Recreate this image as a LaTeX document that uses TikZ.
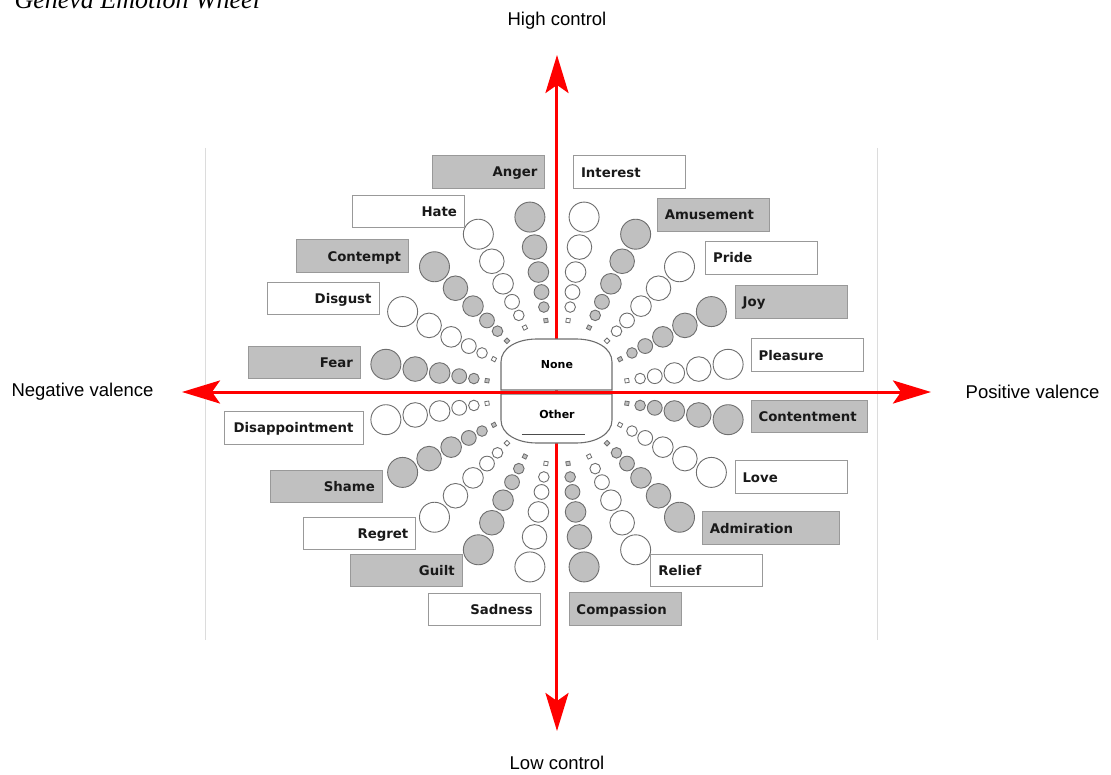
\documentclass[tikz,border=0pt]{standalone}
\usepackage{fontspec}
\setmainfont{Liberation Serif}
\setsansfont{Liberation Sans}
\newfontfamily\boxfont{DejaVu Sans}
\usetikzlibrary{arrows.meta}
\definecolor{wheelgray}{HTML}{C0C0C0}
\definecolor{rimgray}{HTML}{6E6E6E}
\definecolor{boxline}{HTML}{999999}
\definecolor{paleline}{HTML}{DCDCDC}
\tikzset{
  axis/.style={red, line width=3pt, -{Stealth[length=38pt,width=23pt,inset=8pt]}},
  axislabel/.style={font=\sffamily\fontsize{18.5}{20}\selectfont},
  emobox/.style={draw=boxline, line width=0.9pt, minimum height=32.6pt, inner xsep=7.5pt,
    inner ysep=0pt, text width=97pt, text height=10pt, text depth=0pt,
    text=black!90, font=\boxfont\bfseries\fontsize{13.3}{15}\selectfont},
  leftbox/.style={emobox, align=right},
  rightbox/.style={emobox, align=left},
  greyfill/.style={fill=wheelgray},
  whitefill/.style={fill=white},
  bubble/.style={draw=rimgray, line width=0.9pt},
  centerpart/.style={draw=rimgray, line width=1.1pt, fill=white},
  centerlabel/.style={font=\boxfont\bfseries\fontsize{11}{13}\selectfont}
}
\begin{document}
\begin{tikzpicture}[x=1pt,y=1pt]
\useasboundingbox (-557,-382) rectangle (554,392);
\clip (-557,-382) rectangle (554,392);
\node[anchor=base west, font=\itshape\fontsize{26}{28}\selectfont] (title) at (-546,383) {Geneva Emotion Wheel};
% edges of the wheel picture
\draw[paleline] (-352,244) -- (-352,-248);
\draw[paleline] (320,244) -- (320,-248);
\coordinate (O) at (0,0);
\coordinate (chigh) at (0,337);
\coordinate (clow) at (0,-339);
\coordinate (vneg) at (-375,0);
\coordinate (vpos) at (374,0);
\draw[axis] (O) -- (chigh);
\draw[axis] (O) -- (clow);
% the twenty spokes
\foreach \s/\f in {9/white,27/wheelgray} {
  \foreach \k in {0,...,9} {
    \pgfmathsetmacro{\a}{\s+36*\k}
    \foreach \d/\r in {175/15,145/12.3,120/10.3,100/7.4,85/5.3}
      \draw[bubble, fill=\f] ({0.99*\d*cos(\a)},{1.012*\d*sin(\a)}) circle (\r);
    \draw[bubble, line width=0.8pt, fill=\f, shift={({0.99*71.5*cos(\a)},{1.012*71.5*sin(\a)})}, rotate=\a]
      (-2,-2) rectangle (2,2);
  }
}
% none / other
\draw[centerpart] (-56,2) -- (-56,30) .. controls (-56,44) and (-40,53) .. (-20,53)
  -- (19,53) .. controls (39,53) and (55,44) .. (55,30) -- (55,2) -- cycle;
\draw[centerpart] (-56,-2) -- (-56,-28) .. controls (-56,-42) and (-40,-51) .. (-20,-51)
  -- (19,-51) .. controls (39,-51) and (55,-42) .. (55,-28) -- (55,-2) -- cycle;
\node[centerlabel] (none) at (0,27.5) {None};
\node[centerlabel] (other) at (0,-22) {Other};
\draw[black!70, line width=1pt] (-35,-42) -- (28,-42);
\draw[axis] (O) -- (vneg);
\draw[axis] (O) -- (vpos);
\node[axislabel] (high) at (0,371) {High control};
\node[axislabel] (low) at (0,-371) {Low control};
\node[axislabel] (negv) at (-474.5,0) {Negative valence};
\node[axislabel] (posv) at (475.5,0) {Positive valence};
% negative side
\node[leftbox, greyfill] (anger) at (-68.1,220) {Anger};
\node[leftbox, whitefill] (hate) at (-148.5,180.5) {Hate};
\node[leftbox, greyfill] (contempt) at (-204.5,135.8) {Contempt};
\node[leftbox, whitefill] (disgust) at (-234,93.5) {Disgust};
\node[leftbox, greyfill] (fear) at (-252.5,29.5) {Fear};
\node[leftbox, whitefill, text width=124pt, align=center] (disappointment) at (-263.5,-35.8) {Disappointment};
\node[leftbox, greyfill] (shame) at (-230.7,-94.3) {Shame};
\node[leftbox, whitefill] (regret) at (-197.2,-141.3) {Regret};
\node[leftbox, greyfill] (guilt) at (-150.8,-178.3) {Guilt};
\node[leftbox, whitefill] (sadness) at (-72.8,-217.3) {Sadness};
% positive side
\node[rightbox, whitefill] (interest) at (72.5,219.8) {Interest};
\node[rightbox, greyfill] (amusement) at (156.3,177.3) {Amusement};
\node[rightbox, whitefill] (pride) at (204.5,134.1) {Pride};
\node[rightbox, greyfill] (joy) at (234.2,90) {Joy};
\node[rightbox, whitefill] (pleasure) at (250,37) {Pleasure};
\node[rightbox, greyfill, text width=101pt] (contentment) at (252,-24.3) {Contentment};
\node[rightbox, whitefill] (love) at (234,-85) {Love};
\node[rightbox, greyfill, text width=122pt] (admiration) at (213.8,-136) {Admiration};
\node[rightbox, whitefill] (relief) at (149.8,-178.3) {Relief};
\node[rightbox, greyfill] (compassion) at (68,-217) {Compassion};
\end{tikzpicture}
\end{document}
